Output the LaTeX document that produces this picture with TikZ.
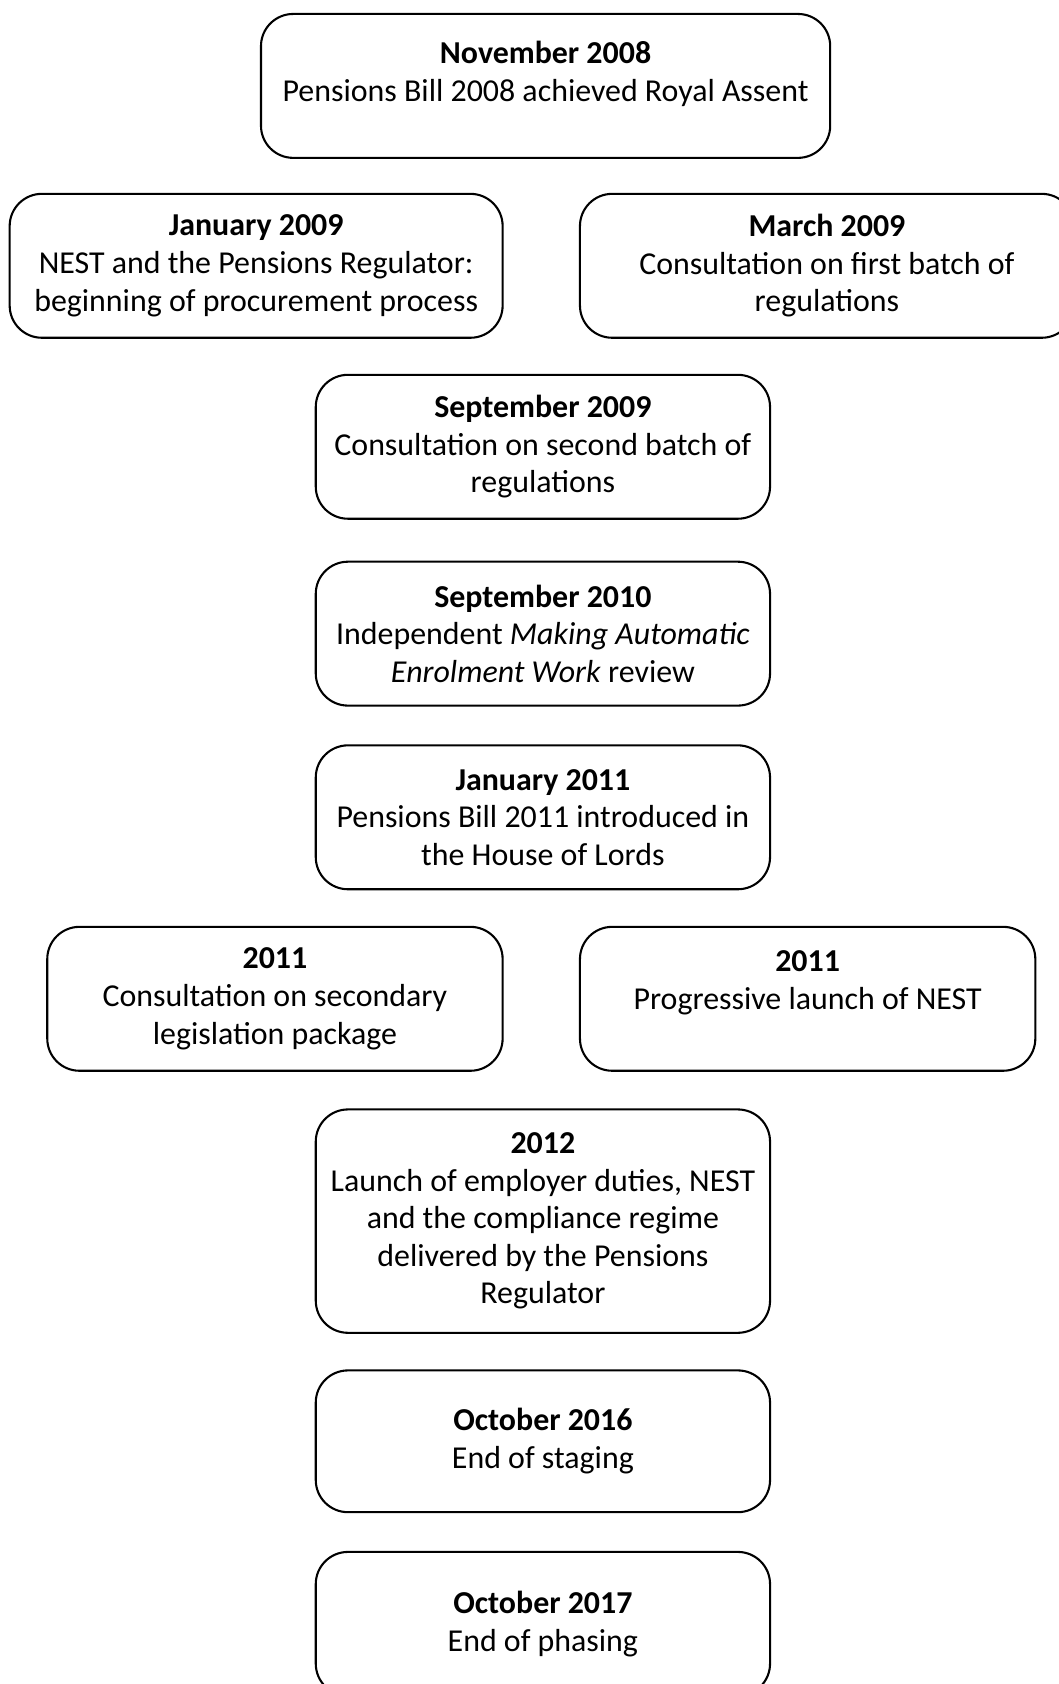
\documentclass[tikz,border=0pt]{standalone}
\usepackage{fontspec}
\setmainfont{Carlito}
\begin{document}
\begin{tikzpicture}
      [every node/.style={draw, rounded corners=0.6cm, line width=1.1pt, align=center,
        minimum width=8.46cm, minimum height=2.68cm, inner sep=0pt,
        font=\fontsize{16.9}{19.9}\selectfont}]
      \useasboundingbox (0,0) rectangle (19.72,-31.36);

      \node [minimum width=10.6cm] (nov08) at (10.16,-1.6) {\textbf{November 2008}\\Pensions Bill 2008 achieved Royal Assent\\[-0.16cm]\mbox{}};
      \node [minimum width=9.18cm] (jan09) at (4.77,-4.95) {\textbf{January 2009}\\NEST and the Pensions Regulator:\\beginning of procurement process};
      \node [minimum width=9.2cm] (mar09) at (15.4,-4.95) {\textbf{March 2009}\\Consultation on first batch of\\regulations};
      \node (sep09) at (10.11,-8.32) {\textbf{September 2009}\\Consultation on second batch of\\regulations};
      \node (sep10) at (10.11,-11.8) {\textbf{September 2010}\\Independent \textit{Making Automatic}\\\textit{Enrolment Work} review};
      \node (jan11) at (10.11,-15.22) {\textbf{January 2011}\\Pensions Bill 2011 introduced in\\the House of Lords};
      \node [minimum width=8.48cm] (cons11) at (5.12,-18.6) {\textbf{2011}\\Consultation on secondary\\legislation package};
      \node [minimum width=8.48cm] (nest11) at (15.04,-18.6) {\textbf{2011}\\Progressive launch of NEST\\\mbox{}};
      \node [minimum height=4.16cm] (y2012) at (10.11,-22.74) {\textbf{2012}\\Launch of employer duties, NEST\\and the compliance regime\\delivered by the Pensions\\Regulator};
      \node [minimum height=2.64cm] (oct16) at (10.11,-26.84) {\textbf{October 2016}\\End of staging};
      \node (oct17) at (10.11,-30.24) {\textbf{October 2017}\\End of phasing};
    \end{tikzpicture}
\end{document}
